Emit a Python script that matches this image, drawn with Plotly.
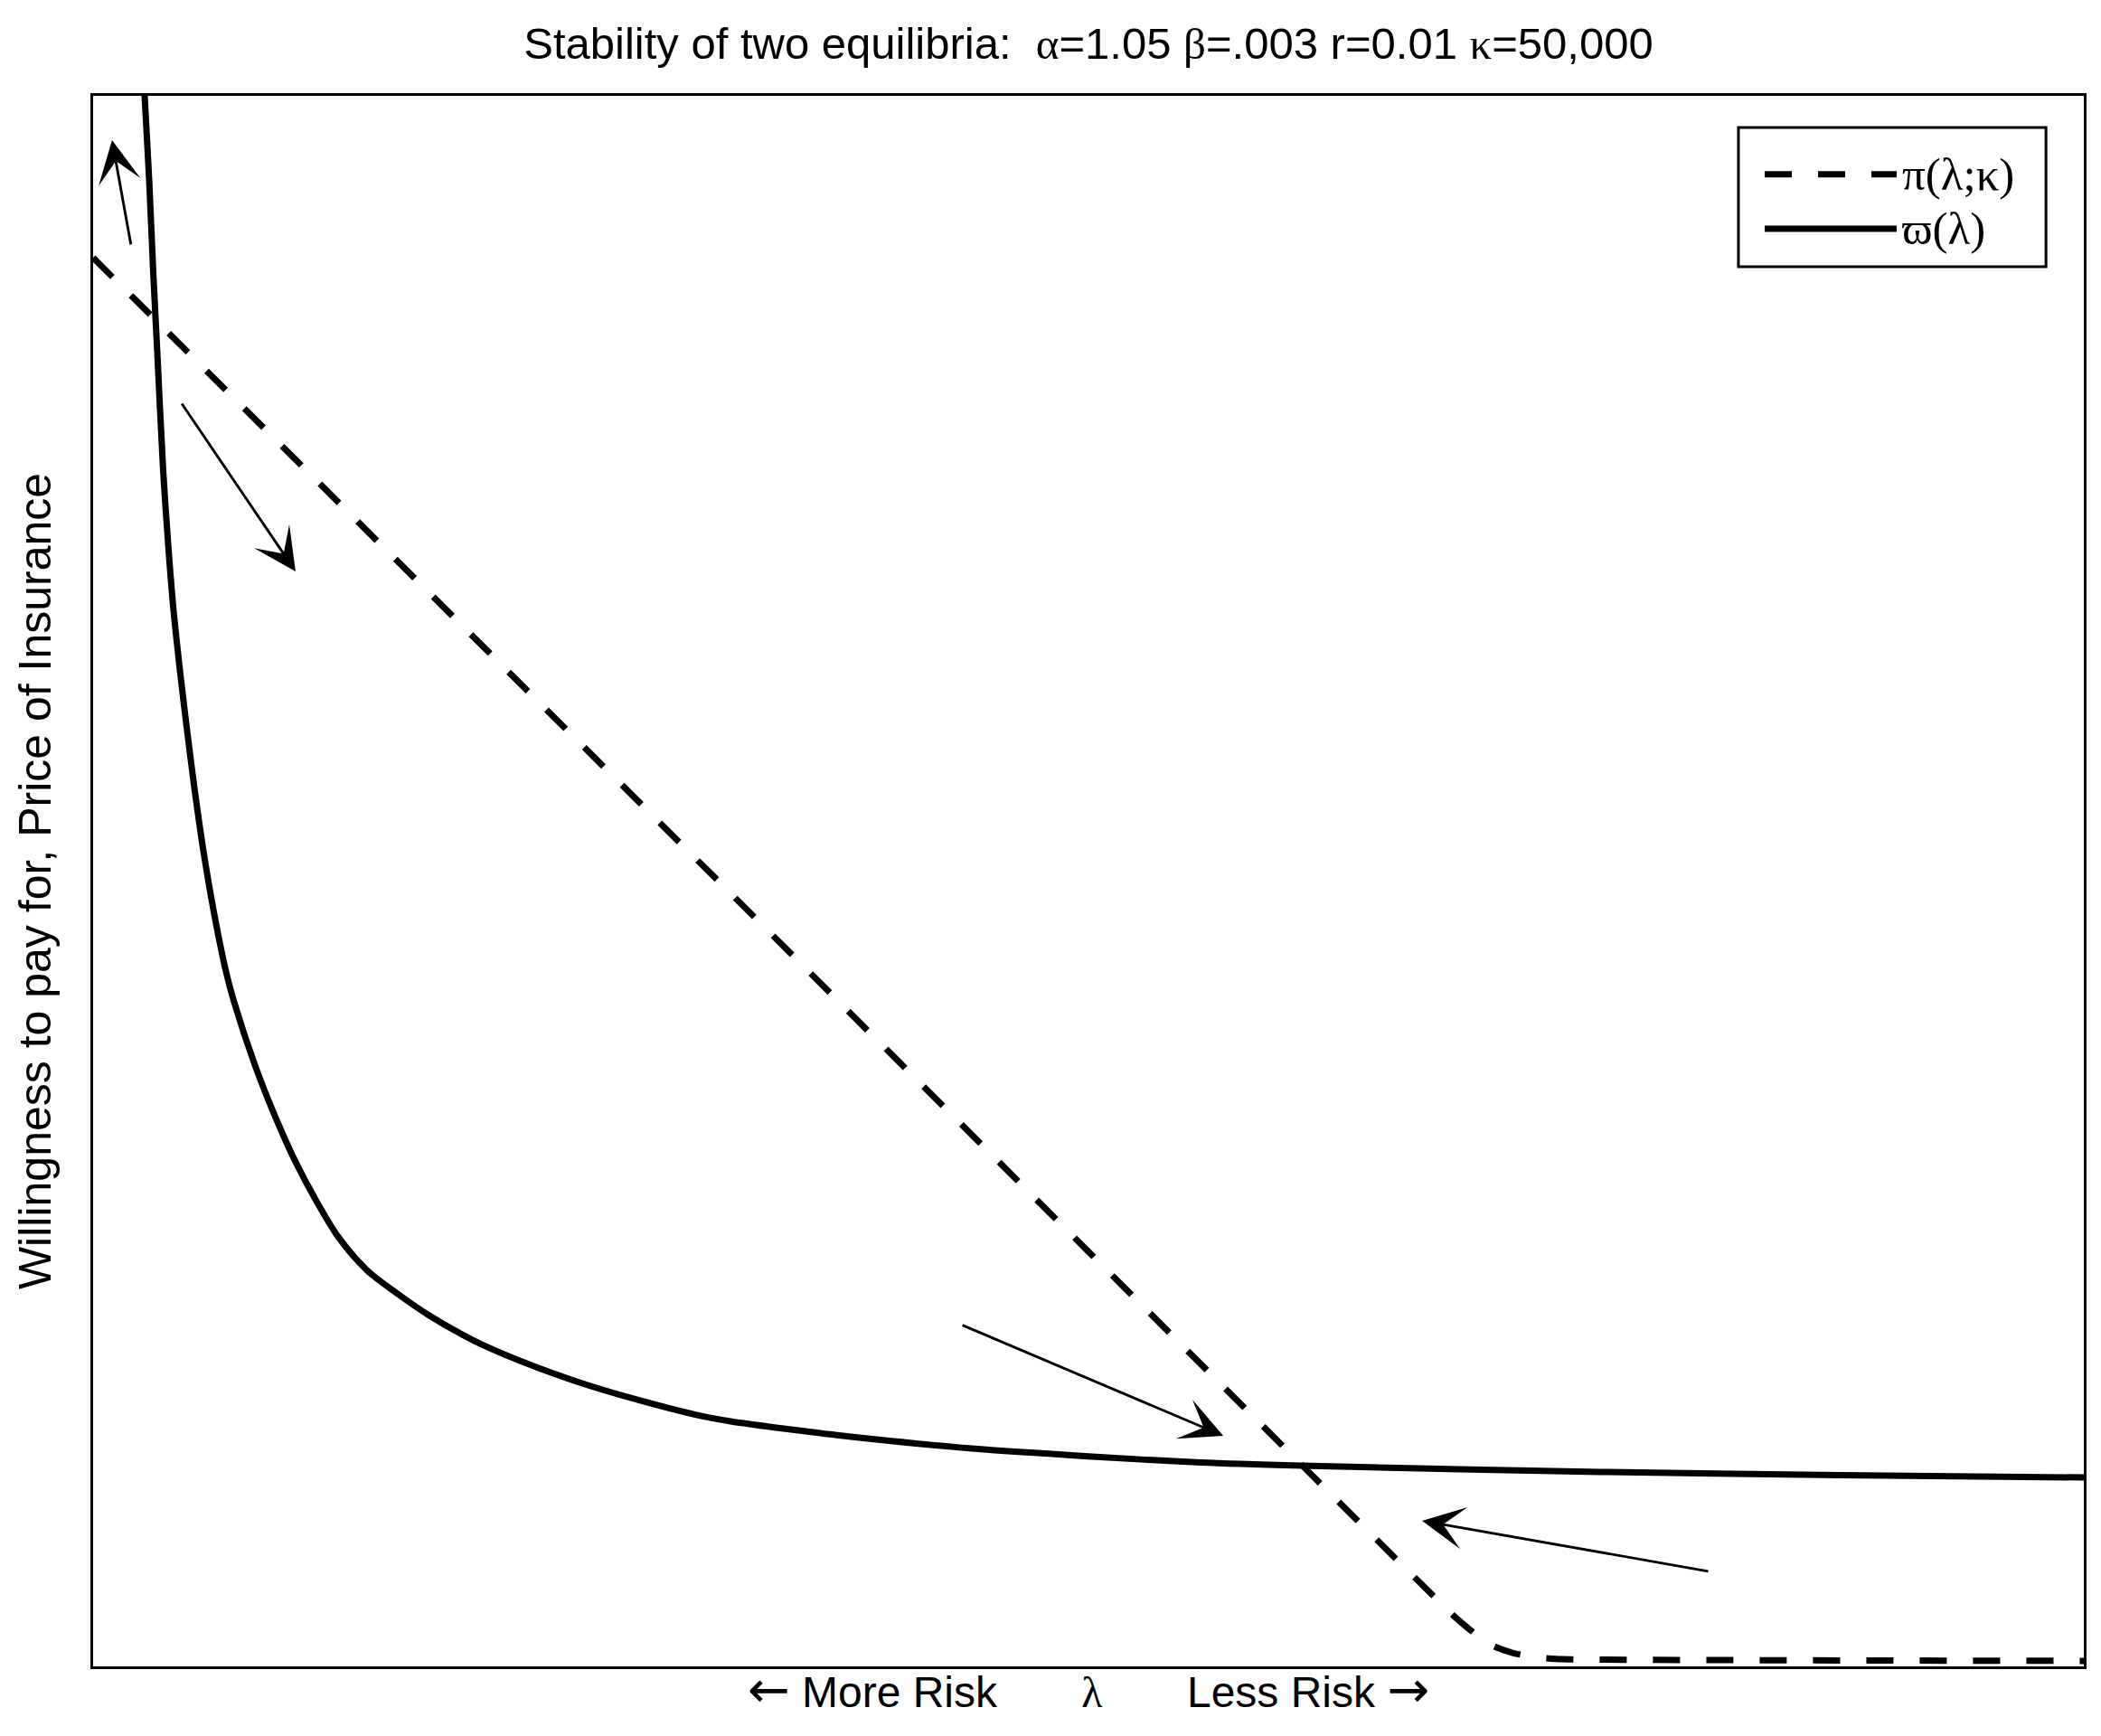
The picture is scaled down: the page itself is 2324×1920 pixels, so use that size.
import plotly.graph_objects as go

# ---- data (arbitrary units 0..100) ----
lam_omega = [2.52, 2.59, 2.82, 3.02, 3.22, 3.52, 3.79, 4.04, 4.36, 4.72, 5.11, 5.54, 6.06, 6.68, 7.08,
             8.13, 9.26, 10.17, 11.13, 12.31, 13.76, 15.30, 16.89, 19.07, 21.44, 24.43, 27.48,
             30.52, 32.02, 35.06, 38.06, 44.14, 50.18, 55.63, 60.72, 75.70, 87.74, 100.0]
omega = [101.61, 99.94, 94.53, 88.77, 83.77, 76.11, 71.10, 67.24, 63.44, 59.59, 55.73, 51.93, 48.07, 44.21, 42.31,
         38.28, 34.66, 32.12, 29.82, 27.35, 25.22, 23.72, 22.34, 20.78, 19.46, 18.08, 16.93,
         15.95, 15.60, 15.08, 14.62, 13.87, 13.36, 12.98, 12.78, 12.38, 12.18, 12.03]

lam_pi = [0.0, 32.2, 68.35, 69.48, 70.39, 71.30, 72.43, 73.80, 100.0]
pi_vals = [89.69, 49.0, 3.22, 2.01, 1.27, 0.86, 0.58, 0.46, 0.35]

arrow_tail_x = [1.91, 4.41, 43.60, 81.20]
arrow_tail_y = [90.45, 80.48, 21.76, 6.04]
arrow_tip_x = [0.95, 10.17, 56.77, 66.76]
arrow_tip_y = [97.18, 69.72, 14.68, 9.27]

legend_labels = ["π(λ;κ)", "ϖ(λ)"]
SERIF = "Liberation Serif"
SANS = "Liberation Sans"

def greek(ch):
    return '<span style="font-family:%s">%s</span>' % (SERIF, ch)

def arrow(ch):
    return '<span style="font-family:DejaVu Sans;font-size:56px">%s</span>' % ch

title_text = ('Stability of two equilibria:  ' + greek('α') + '=1.05 ' + greek('β') +
              '=.003 r=0.01 ' + greek('κ') + '=50,000')
SP = '\u00a0' * 7
xlabel = arrow('←') + ' More Risk' + SP + greek('λ') + SP + 'Less Risk ' + arrow('→')
ylabel = 'Willingness to pay for, Price of Insurance'

fig = go.Figure()
fig.add_trace(go.Scatter(x=lam_pi, y=pi_vals, mode="lines", name=legend_labels[0],
                         line=dict(color="black", width=7, dash="30px,29px", shape="spline", smoothing=0.4),
                         showlegend=False, hoverinfo="skip"))
fig.add_trace(go.Scatter(x=lam_omega, y=omega, mode="lines", name=legend_labels[1],
                         line=dict(color="black", width=7, shape="spline", smoothing=0.8),
                         showlegend=False, hoverinfo="skip"))

annotations = []
for tx, ty, hx, hy in zip(arrow_tail_x, arrow_tail_y, arrow_tip_x, arrow_tip_y):
    annotations.append(dict(x=hx, y=hy, ax=tx, ay=ty, xref="x", yref="y", axref="x", ayref="y",
                            text="", showarrow=True, arrowhead=3, arrowsize=2.7, arrowwidth=2.9,
                            arrowcolor="black", standoff=0, startstandoff=0))

# custom legend (box, samples, labels) in data coordinates
leg_x0, leg_x1, leg_y0, leg_y1 = 82.65, 98.10, 89.12, 97.98
sample_x0, sample_x1 = 83.97, 90.60
row_y = [95.0, 91.54]
shapes = [
    dict(type="rect", xref="x", yref="y", x0=leg_x0, x1=leg_x1, y0=leg_y0, y1=leg_y1,
         line=dict(color="black", width=3), fillcolor="white", layer="above"),
    dict(type="line", xref="x", yref="y", x0=sample_x0, x1=sample_x1, y0=row_y[0], y1=row_y[0],
         line=dict(color="black", width=7, dash="30px,29px"), layer="above"),
    dict(type="line", xref="x", yref="y", x0=sample_x0, x1=sample_x1, y0=row_y[1], y1=row_y[1],
         line=dict(color="black", width=7), layer="above"),
]
for lbl, ry in zip(legend_labels, row_y):
    annotations.append(dict(x=90.80, y=ry, xref="x", yref="y", text=lbl, showarrow=False,
                            xanchor="left", yanchor="middle",
                            font=dict(family=SERIF, size=51, color="black")))

fig.update_layout(
    width=2324, height=1920,
    margin=dict(l=95, r=27, t=98, b=85),
    paper_bgcolor="white", plot_bgcolor="white",
    title=dict(text=title_text, x=0.5, xref="paper", xanchor="center",
               y=1 - 40 / 1920, yref="container", yanchor="middle",
               font=dict(family=SANS, size=49, color="black")),
    xaxis=dict(range=[0, 100], showgrid=False, zeroline=False, showticklabels=False, ticks="",
               showline=True, linecolor="black", linewidth=3, mirror=True,
               title=dict(text=xlabel, font=dict(family=SANS, size=48, color="black"), standoff=10)),
    yaxis=dict(range=[0, 100], showgrid=False, zeroline=False, showticklabels=False, ticks="",
               showline=True, linecolor="black", linewidth=3, mirror=True,
               title=dict(text=ylabel, font=dict(family=SANS, size=50, color="black"), standoff=28)),
    annotations=annotations,
    shapes=shapes,
    showlegend=False,
)

fig.write_html("out.html")
